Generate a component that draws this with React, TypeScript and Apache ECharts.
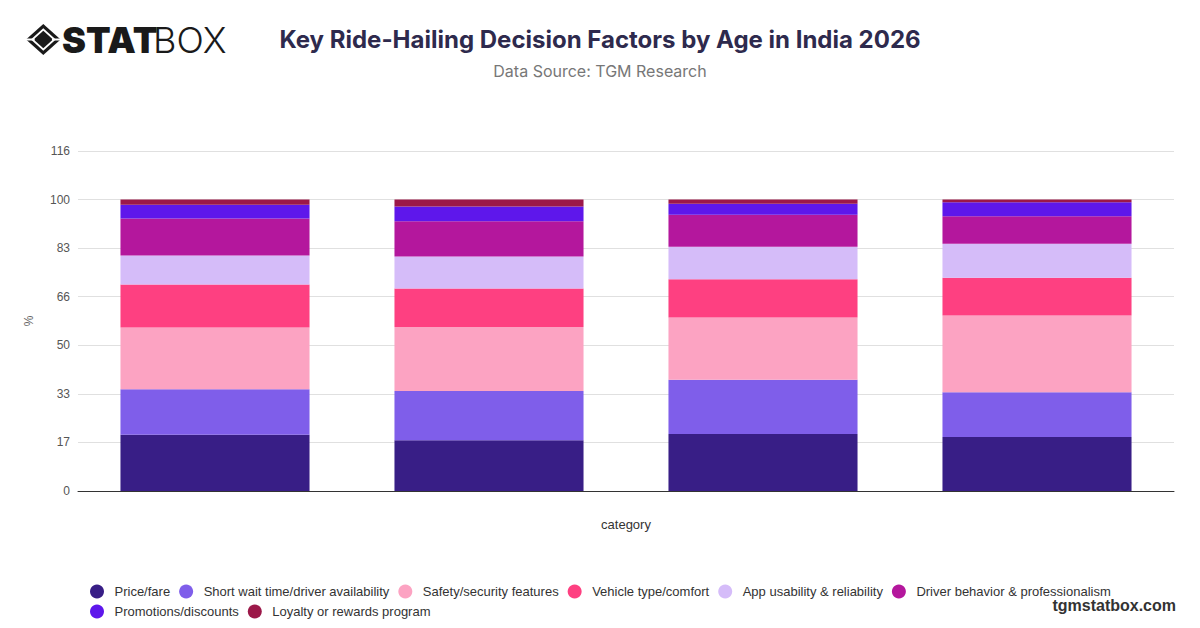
import React, { useEffect, useRef } from "react";
import * as echarts from "echarts";

const categories = ["18-24", "25-34", "35-44", "45+"];
const seriesNames = [
  "Price/fare",
  "Short wait time/driver availability",
  "Safety/security features",
  "Vehicle type/comfort",
  "App usability & reliability",
  "Driver behavior & professionalism",
  "Promotions/discounts",
  "Loyalty or rewards program",
];
const priceFare = [19.3, 17.4, 19.6, 18.5];
const shortWait = [15.6, 16.9, 18.6, 15.4];
const safety = [21.2, 22.0, 21.3, 26.3];
const vehicle = [14.8, 13.2, 13.2, 13.0];
const appUsability = [9.9, 11.0, 11.1, 11.6];
const driverBehavior = [12.7, 12.1, 11.0, 9.5];
const promotions = [4.7, 5.0, 3.8, 4.8];
const loyalty = [1.8, 2.4, 1.4, 0.9];
const seriesValues = [priceFare, shortWait, safety, vehicle, appUsability, driverBehavior, promotions, loyalty];
const colors = ["#381e86", "#7f5eea", "#fca3c2", "#fe4081", "#d5bcf9", "#b4179d", "#5e17eb", "#9c1849"];
const yTickLabels = ["0", "17", "33", "50", "66", "83", "100", "116"];

const TICK = 100 / 6;
const SANS = "'Liberation Sans', Arial, Helvetica, sans-serif";

export default function App() {
  const ref = useRef<HTMLDivElement>(null);
  useEffect(() => {
    if (!ref.current) return;
    const chart = echarts.init(ref.current, undefined, { renderer: "svg" });
    const cx = 43.3, cy = 39.5, hw = 17.3, hh = 15.5;
    const dia = (s: number) => [
      [cx - hw * s, cy],
      [cx, cy - hh * s],
      [cx + hw * s, cy],
      [cx, cy + hh * s],
    ];
    chart.setOption({
      animation: false,
      backgroundColor: "#ffffff",
      color: colors,
      title: [
        {
          text: "Key Ride-Hailing Decision Factors by Age in India 2026",
          left: "center",
          top: 22,
          textStyle: { fontFamily: "Inter, sans-serif", fontSize: 24, fontWeight: "bold", color: "#2e2a4d" },
        },
        {
          text: "Data Source: TGM Research",
          left: "center",
          top: 58,
          textStyle: { fontFamily: "Inter, sans-serif", fontSize: 16, fontWeight: "normal", color: "#777777" },
        },
      ],
      legend: {
        left: 85,
        top: 578,
        width: 1080,
        icon: "circle",
        itemWidth: 25,
        itemHeight: 14,
        itemGap: 3,
        textStyle: { fontFamily: SANS, fontSize: 13, color: "#333333", lineHeight: 17, padding: [0, 6, 0, 0] },
        data: seriesNames,
      },
      grid: { left: 78, right: 26, top: 151, bottom: 137, containLabel: false },
      xAxis: {
        type: "category",
        data: categories,
        name: "category",
        nameLocation: "middle",
        nameGap: 27,
        nameTextStyle: { fontFamily: SANS, fontSize: 13, color: "#333333" },
        axisLine: { show: true, lineStyle: { color: "#333333", width: 1 } },
        axisTick: { show: false },
        axisLabel: { show: false },
      },
      yAxis: {
        type: "value",
        min: 0,
        max: TICK * 7,
        interval: TICK,
        name: "%",
        nameLocation: "middle",
        nameGap: 43,
        nameTextStyle: { fontFamily: SANS, fontSize: 12, color: "#666666" },
        axisLine: { show: false },
        axisTick: { show: false },
        axisLabel: {
          margin: 8,
          fontFamily: SANS,
          fontSize: 12,
          color: "#555555",
          formatter: (v: number) => yTickLabels[Math.round(v / TICK)] ?? "",
        },
        splitLine: { lineStyle: { color: "#e0e0e0", width: 1 } },
      },
      series: seriesNames.map((name, i) => ({
        name,
        type: "bar",
        stack: "total",
        barCategoryGap: "31%",
        data: seriesValues[i],
        itemStyle: { color: colors[i] },
      })),
      graphic: [
        { type: "polygon", shape: { points: dia(1) }, style: { fill: "#1a1a1a" } },
        { type: "polygon", shape: { points: dia(0.72) }, style: { fill: "#ffffff" } },
        { type: "polygon", shape: { points: dia(0.56) }, style: { fill: "#1a1a1a" } },
        { type: "line", shape: { x1: cx - hw - 1, y1: cy, x2: cx - hw * 0.5, y2: cy }, style: { stroke: "#ffffff", lineWidth: 2 } },
        { type: "line", shape: { x1: cx + hw * 0.5, y1: cy, x2: cx + hw + 1, y2: cy }, style: { stroke: "#ffffff", lineWidth: 2 } },
        {
          type: "text",
          x: 62,
          y: 40,
          style: { text: "STAT", fontFamily: "Inter, sans-serif", fontSize: 36, fontWeight: 900, fill: "#1a1a1a", textVerticalAlign: "middle", verticalAlign: "middle" },
        },
        {
          type: "text",
          x: 153,
          y: 40,
          style: { text: "BOX", fontFamily: "Inter, sans-serif", fontSize: 36, fontWeight: 300, fill: "#1a1a1a", textVerticalAlign: "middle", verticalAlign: "middle" },
        },
        {
          type: "text",
          right: 24,
          top: 597,
          style: { text: "tgmstatbox.com", fontFamily: SANS, fontSize: 16, fontWeight: "bold", fill: "#333333" },
        },
      ],
    });
    return () => chart.dispose();
  }, []);
  return <div ref={ref} style={{ width: 1200, height: 628, position: "absolute", left: 0, top: 0 }} />;
}
